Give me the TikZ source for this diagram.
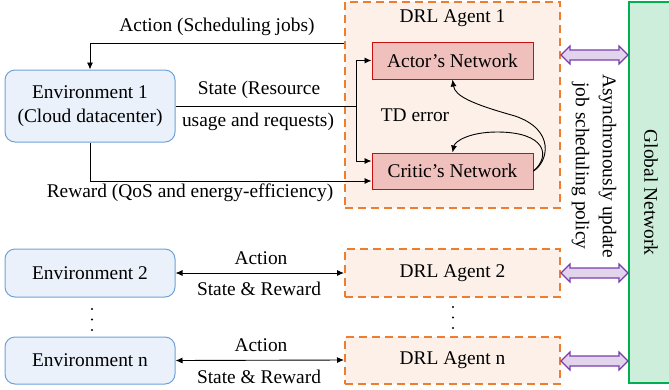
\documentclass[tikz,border=0pt]{standalone}
\usepackage{fontspec}
\setmainfont{Liberation Serif}
\usetikzlibrary{arrows.meta,calc}
\definecolor{envfill}{RGB}{234,241,251}
\definecolor{envdraw}{RGB}{110,162,216}
\definecolor{agfill}{RGB}{252,240,232}
\definecolor{agdraw}{RGB}{237,125,49}
\definecolor{netfill}{RGB}{240,192,188}
\definecolor{netdraw}{RGB}{200,16,16}
\definecolor{gfill}{RGB}{204,238,218}
\definecolor{gdraw}{RGB}{0,176,80}
\definecolor{pfill}{RGB}{225,212,236}
\definecolor{pdraw}{RGB}{122,62,172}
\tikzset{
  envbox/.style={draw=envdraw,fill=envfill,line width=1pt,rounded corners=10pt,inner sep=0pt,align=center},
  agbox/.style={draw=agdraw,fill=agfill,line width=2pt,dash pattern=on 8pt off 5pt,inner sep=0pt},
  netbox/.style={draw=netdraw,fill=netfill,line width=1pt,inner sep=0pt,minimum width=161pt},
  gbox/.style={draw=gdraw,fill=gfill,line width=2pt,inner sep=0pt},
  lbl/.style={inner sep=0pt},
  arr/.style={draw=black,line width=0.9pt,-{Latex[length=7pt,width=6pt]}},
  arrtwo/.style={draw=black,line width=0.9pt,{Latex[length=7pt,width=6pt]}-{Latex[length=7pt,width=6pt]}},
  ln/.style={draw=black,line width=0.9pt},
  dblarr/.style={draw=pdraw,fill=pfill,line width=1.2pt,line join=miter},
}
\newcommand\purplearrow[2]{%
  \draw[dblarr] (#1) -- ++(9,9) -- ++(0,-4) -- ($(#2)+(-9,5)$) -- ++(0,4) -- (#2)
    -- ++(-9,-9) -- ++(0,4) -- ($(#1)+(9,-5)$) -- ++(0,-4) -- cycle;}
\begin{document}
\begin{tikzpicture}[x=1pt,y=-1pt,font=\fontsize{19.4}{24}\selectfont]
\useasboundingbox (0,0) rectangle (669,389);
% global network
\node[gbox,minimum width=51pt,minimum height=381pt] (gn) at (654.5,192.5) {};
\node[lbl,rotate=-90] (gnl) at (651,192.5) {Global Network};
% agents
\node[agbox,minimum width=215pt,minimum height=206.5pt] (ag1) at (452.5,104.75) {};
\node[lbl] (ag1l) at (452.5,18) {DRL Agent 1};
\node[agbox,minimum width=215pt,minimum height=48pt] (ag2) at (452.5,273) {};
\node[lbl] (ag2l) at (452.5,273) {DRL Agent 2};
\node[agbox,minimum width=215pt,minimum height=47pt] (agn) at (452.5,360) {};
\node[lbl] (agnl) at (452.5,360) {DRL Agent n};
% networks
\node[netbox,minimum height=37pt] (actor) at (452.5,60.5) {Actor’s Network};
\node[netbox,minimum height=36pt] (critic) at (452.5,171) {Critic’s Network};
\node[lbl] (td) at (415,115) {TD error};
% environments
\node[envbox,minimum width=170pt,minimum height=72pt] (env1) at (90,106) {Environment 1\\(Cloud datacenter)};
\node[envbox,minimum width=170pt,minimum height=48pt] (env2) at (90,273) {Environment 2};
\node[envbox,minimum width=170pt,minimum height=47pt] (envn) at (90,360.5) {Environment n};
% labels
\node[lbl] (la) at (217,27) {Action (Scheduling jobs)};
\node[lbl] (ls1) at (259,90) {State (Resource};
\node[lbl] (ls2) at (258,122) {usage and requests)};
\node[lbl] (lr) at (190,193) {Reward (QoS and energy-efficiency)};
\node[lbl] (la2) at (261,258) {Action};
\node[lbl] (lsr2) at (259,289) {State \& Reward};
\node[lbl] (lan) at (261,345) {Action};
\node[lbl] (lsrn) at (259,377) {State \& Reward};
\node[lbl,rotate=-90,align=center,font=\fontsize{19.4}{27}\selectfont] (async) at (594,166) {Asynchronously update\\job scheduling policy};
% connectors
\draw[arr] (ag1.west |- 0,43) -| (env1.north);
\coordinate (split) at (356,106);
\draw[ln] (env1.east) -- (split);
\draw[arr] (split) |- (actor.west);
\draw[arr] (split) |- ($(critic.west)+(0,-10)$);
\draw[arr] (env1.south) |- ($(critic.west)+(0,10)$);
\draw[arr] (critic.east) .. controls (548,162) and (556,130) .. (515,116)
  .. controls (472,104) and (455,96) .. (actor.south);
\draw[arr] (critic.east) .. controls (551,156) and (546,132) .. (497,132)
  .. controls (470,132) and (455,141) .. (critic.north);
\draw[arrtwo] (env2.east) -- (ag2.west);
\draw[arrtwo] (envn.east) -- (agn.west);
% purple double arrows
\coordinate (p1l) at (ag1.east |- 0,55);
\coordinate (p1r) at (gn.west |- 0,55);
\coordinate (p2l) at (ag2.east);
\coordinate (p2r) at (gn.west |- ag2.east);
\coordinate (pnl) at (agn.east |- 0,361);
\coordinate (pnr) at (gn.west |- 0,361);
\purplearrow{p1l}{p1r}
\purplearrow{p2l}{p2r}
\purplearrow{pnl}{pnr}
% dots
\foreach \y in {309,319.5,330} \fill (92,\y) circle (1.2);
\foreach \y in {307,317.5,328} \fill (453,\y) circle (1.2);
\end{tikzpicture}
\end{document}
